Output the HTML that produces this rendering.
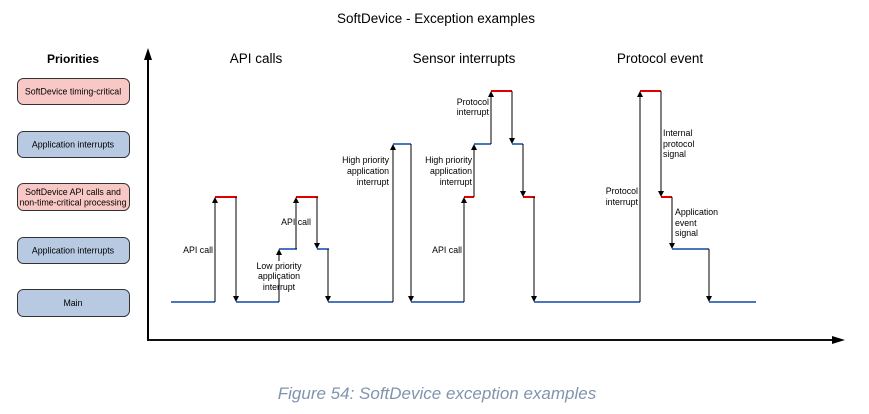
<!DOCTYPE html>
<html><head><meta charset="utf-8"><style>
html,body{margin:0;padding:0;background:#fff;}
svg{display:block;}
text{font-family:"Liberation Sans",Arial,sans-serif;fill:#000;}
</style></head><body>
<svg width="869" height="414" viewBox="0 0 869 414" xmlns="http://www.w3.org/2000/svg">
<defs>
<marker id="ah" markerWidth="6" markerHeight="8" refX="5" refY="4" orient="auto" markerUnits="userSpaceOnUse">
<path d="M0,1 L6,4 L0,7 Z" fill="#000"/></marker>
</defs>
<text x="436" y="23" font-size="13.5" text-anchor="middle">SoftDevice - Exception examples</text>
<text x="73" y="63" font-size="12" font-weight="bold" text-anchor="middle">Priorities</text>
<text x="256" y="63" font-size="13.5" text-anchor="middle">API calls</text>
<text x="464" y="63" font-size="13.5" text-anchor="middle">Sensor interrupts</text>
<text x="660" y="63" font-size="13.5" text-anchor="middle">Protocol event</text>

<g stroke="#333" stroke-width="1">
<rect x="17.5" y="78.5" width="112" height="26" rx="6" fill="#f8c8c6"/>
<rect x="17.5" y="131.5" width="112" height="26" rx="6" fill="#b8c9e2"/>
<rect x="17.5" y="183.5" width="112" height="27" rx="6" fill="#f8c8c6"/>
<rect x="17.5" y="237.5" width="112" height="26" rx="6" fill="#b8c9e2"/>
<rect x="17.5" y="289.5" width="112" height="27" rx="6" fill="#b8c9e2"/>
</g>
<g font-size="8.8" text-anchor="middle">
<text x="73" y="94.5">SoftDevice timing-critical</text>
<text x="73" y="147.5">Application interrupts</text>
<text x="73" y="195">SoftDevice API calls and</text>
<text x="73" y="205.5">non-time-critical processing</text>
<text x="73" y="253.5">Application interrupts</text>
<text x="73" y="306">Main</text>
</g>

<line x1="148" y1="340" x2="148" y2="56" stroke="#000" stroke-width="2"/>
<path d="M144,60 L148,48 L152,60 Z" fill="#000"/>
<line x1="147" y1="340" x2="836" y2="340" stroke="#111" stroke-width="2"/>
<path d="M832,336 L845,340 L832,344 Z" fill="#000"/>

<g stroke="#4a76bd" stroke-width="2" fill="none">
<line x1="171" y1="302" x2="215" y2="302"/>
<line x1="236" y1="302" x2="279" y2="302"/>
<line x1="279" y1="249" x2="297" y2="249"/>
<line x1="317" y1="249" x2="329" y2="249"/>
<line x1="328" y1="302" x2="393" y2="302"/>
<line x1="393" y1="144" x2="411" y2="144"/>
<line x1="411" y1="302" x2="464" y2="302"/>
<line x1="474" y1="144" x2="491" y2="144"/>
<line x1="512" y1="144" x2="523" y2="144"/>
<line x1="534" y1="302" x2="640" y2="302"/>
<line x1="672" y1="249" x2="709" y2="249"/>
<line x1="709" y1="302" x2="756" y2="302"/>
</g>
<g stroke="#e00000" stroke-width="2" fill="none">
<line x1="215" y1="197" x2="237" y2="197"/>
<line x1="296" y1="197" x2="318" y2="197"/>
<line x1="464" y1="197" x2="474" y2="197"/>
<line x1="491" y1="91" x2="512" y2="91"/>
<line x1="523" y1="197" x2="535" y2="197"/>
<line x1="640" y1="91" x2="661" y2="91"/>
<line x1="661" y1="197" x2="672" y2="197"/>
</g>
<g stroke="#000" stroke-width="1" marker-end="url(#ah)">
<line x1="215" y1="302" x2="215" y2="198"/>
<line x1="236" y1="197" x2="236" y2="301"/>
<line x1="279" y1="261" x2="279" y2="250"/>
<line x1="296" y1="249" x2="296" y2="198"/>
<line x1="317" y1="197" x2="317" y2="248"/>
<line x1="328" y1="249" x2="328" y2="301"/>
<line x1="393" y1="302" x2="393" y2="145"/>
<line x1="411" y1="144" x2="411" y2="301"/>
<line x1="464" y1="302" x2="464" y2="198"/>
<line x1="474" y1="197" x2="474" y2="145"/>
<line x1="491" y1="144" x2="491" y2="92"/>
<line x1="512" y1="91" x2="512" y2="143"/>
<line x1="523" y1="144" x2="523" y2="196"/>
<line x1="534" y1="197" x2="534" y2="301"/>
<line x1="640" y1="302" x2="640" y2="92"/>
<line x1="661" y1="91" x2="661" y2="196"/>
<line x1="672" y1="197" x2="672" y2="248"/>
<line x1="709" y1="249" x2="709" y2="301"/>
</g>
<line x1="279" y1="279" x2="279" y2="302" stroke="#000" stroke-width="1"/>
<g font-size="8.8">
<text x="213" y="253" text-anchor="end">API call</text>
<text x="296" y="225" text-anchor="middle">API call</text>
<text x="279" y="269" text-anchor="middle">Low priority</text>
<text x="279" y="279" text-anchor="middle">application</text>
<text x="279" y="290" text-anchor="middle">interrupt</text>
<text x="389" y="163" text-anchor="end">High priority</text>
<text x="389" y="174" text-anchor="end">application</text>
<text x="389" y="185" text-anchor="end">interrupt</text>
<text x="472" y="163" text-anchor="end">High priority</text>
<text x="472" y="174" text-anchor="end">application</text>
<text x="472" y="185" text-anchor="end">interrupt</text>
<text x="489" y="105" text-anchor="end">Protocol</text>
<text x="489" y="115" text-anchor="end">interrupt</text>
<text x="462" y="253" text-anchor="end">API call</text>
<text x="638" y="194" text-anchor="end">Protocol</text>
<text x="638" y="205" text-anchor="end">interrupt</text>
<text x="663" y="136">Internal</text>
<text x="663" y="147">protocol</text>
<text x="663" y="157">signal</text>
<text x="675" y="215">Application</text>
<text x="675" y="226">event</text>
<text x="675" y="236">signal</text>
</g>
<text x="437" y="399" font-size="17" font-style="italic" text-anchor="middle" style="fill:#8194ad">Figure 54: SoftDevice exception examples</text>
</svg>
</body></html>
